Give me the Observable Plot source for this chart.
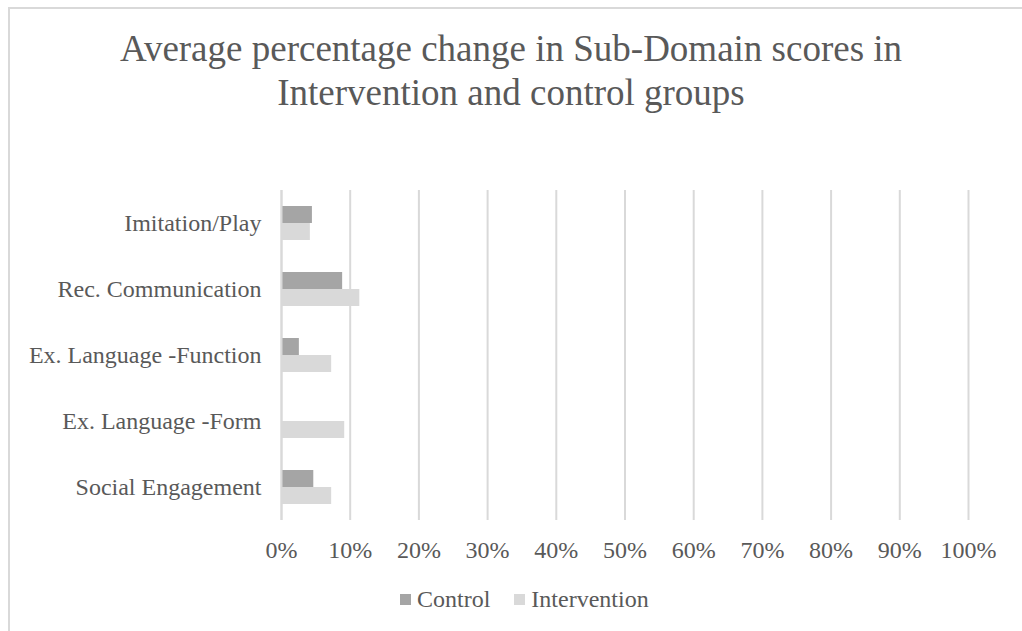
<!DOCTYPE html>
<html>
<head>
<meta charset="utf-8">
<script src="https://cdn.jsdelivr.net/npm/d3@7"></script>
<script src="https://cdn.jsdelivr.net/npm/@observablehq/plot@0.6"></script>
<style>
  html, body { margin: 0; padding: 0; background: #fff; }
  #wrap { position: relative; width: 1022px; height: 631px; overflow: hidden; font-family: "Liberation Serif", "Times New Roman", serif; color: #595959; }
  #frame { position: absolute; left: 8px; top: 7px; right: -10px; bottom: -10px; border-left: 2px solid #d9d9d9; border-top: 2px solid #d9d9d9; }
  #title { position: absolute; left: 0; top: 27px; width: 1022px; text-align: center; font-size: 37px; line-height: 43.5px; }
  #chart { position: absolute; left: 0; top: 0; }
  #legend { position: absolute; left: 400px; top: 585px; display: flex; font-size: 24px; line-height: 28px; }
  .item { display: flex; align-items: flex-start; margin-right: 24px; }
  .sw { width: 11px; height: 11px; margin-top: 9px; margin-right: 6px; }
</style>
</head>
<body>
<div id="wrap">
  <div id="frame"></div>
  <div id="title">Average percentage change in Sub-Domain scores in<br>Intervention and control groups</div>
  <div id="chart"></div>
  <div id="legend"></div>
</div>
<script>
const categories = ["Imitation/Play", "Rec. Communication", "Ex. Language -Function", "Ex. Language -Form", "Social Engagement"];
const seriesNames = ["Control", "Intervention"];
const seriesColors = ["#a5a5a5", "#d9d9d9"];
const controlValues = [0.045, 0.089, 0.026, 0.0, 0.047];
const interventionValues = [0.042, 0.114, 0.073, 0.092, 0.073];
const xTicks = [0, 0.1, 0.2, 0.3, 0.4, 0.5, 0.6, 0.7, 0.8, 0.9, 1.0];

const controlData = categories.map((c, i) => ({category: c, value: controlValues[i], series: "Control"}));
const interventionData = categories.map((c, i) => ({category: c, value: interventionValues[i], series: "Intervention"}));

const half = 17;
const plot = Plot.plot({
  width: 1022,
  height: 570,
  marginTop: 190,
  marginBottom: 50,
  marginLeft: 281,
  marginRight: 54,
  style: { fontFamily: '"Liberation Serif", "Times New Roman", serif', fontSize: "24px", color: "#595959", background: "transparent", overflow: "visible" },
  x: { domain: [0, 1], ticks: xTicks, tickFormat: d3.format(".0%"), tickSize: 0, tickPadding: 20, label: null },
  y: { domain: categories, paddingInner: 0.485, paddingOuter: 0.2425, tickSize: 0, tickPadding: 20, label: null },
  color: { domain: seriesNames, range: seriesColors },
  marks: [
    Plot.ruleX(xTicks, { stroke: "#d9d9d9", strokeWidth: 2, strokeOpacity: 1 }),
    Plot.barX(controlData, { x: "value", y: "category", fill: "series", insetBottom: half, insetTop: 0 }),
    Plot.barX(interventionData, { x: "value", y: "category", fill: "series", insetTop: half, insetBottom: 0 }),
    Plot.ruleX([0], { stroke: "#d9d9d9", strokeWidth: 2 })
  ]
});
plot.querySelectorAll("text").forEach(t => t.setAttribute("fill", "#595959"));
document.getElementById("chart").appendChild(plot);

const legend = document.getElementById("legend");
seriesNames.forEach((name, i) => {
  const item = document.createElement("div");
  item.className = "item";
  const sw = document.createElement("div");
  sw.className = "sw";
  sw.style.background = seriesColors[i];
  const label = document.createElement("span");
  label.textContent = name;
  item.appendChild(sw);
  item.appendChild(label);
  legend.appendChild(item);
});
</script>
</body>
</html>
